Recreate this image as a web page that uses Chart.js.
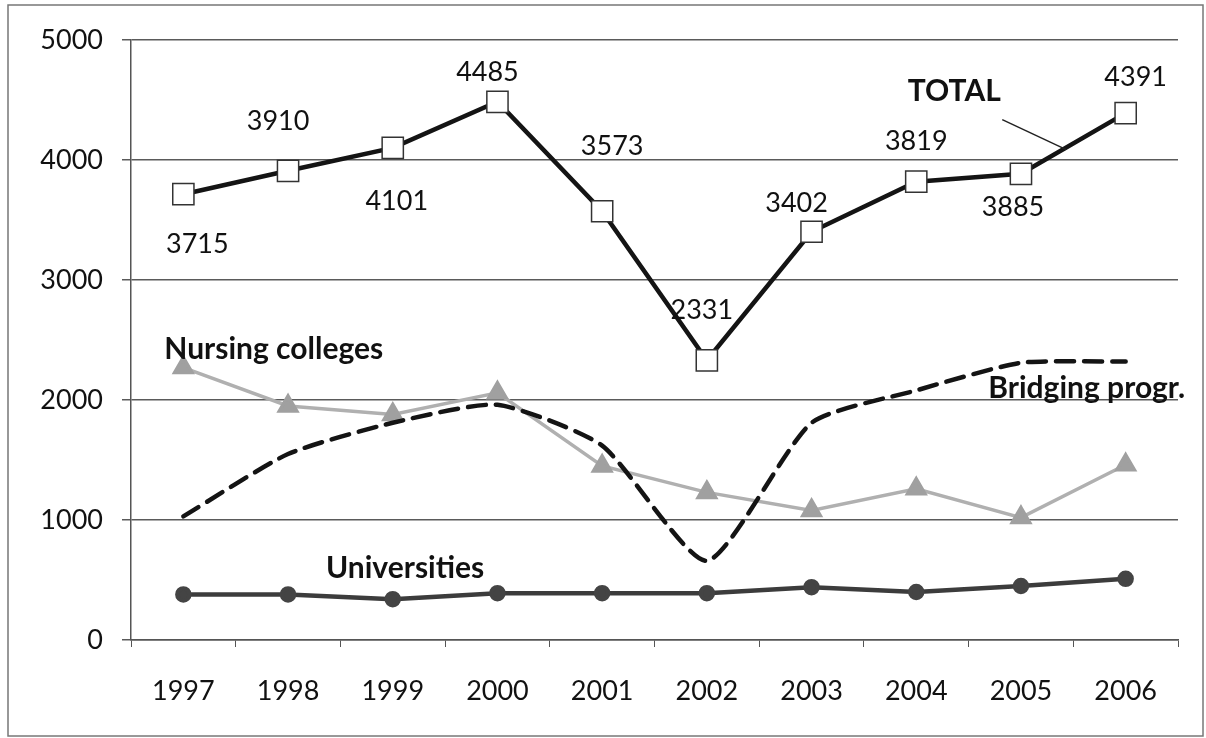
<!DOCTYPE html>
<html>
<head>
<meta charset="utf-8">
<script src="https://cdn.jsdelivr.net/npm/chart.js@4"></script>
<style>
  html, body { margin: 0; padding: 0; background: #fff; }
  #wrap { width: 1206px; height: 738px; }
</style>
</head>
<body>
<div id="wrap"><canvas id="myChart" width="1206" height="738"></canvas></div>
<script>
// data
const years = ['1997', '1998', '1999', '2000', '2001', '2002', '2003', '2004', '2005', '2006'];
const total = [3715, 3910, 4101, 4485, 3573, 2331, 3402, 3819, 3885, 4391];
const nursing = [2270, 1950, 1880, 2060, 1450, 1230, 1080, 1260, 1020, 1460];
const bridging = [1030, 1550, 1810, 1960, 1620, 660, 1810, 2080, 2310, 2320];
const universities = [380, 380, 340, 390, 390, 390, 440, 400, 450, 510];
const yTicks = [0, 1000, 2000, 3000, 4000, 5000];

// where each TOTAL value label sits, relative to its marker (px)
const labelShift = [[14, 50], [-10, -50], [4, 53], [-10, -30], [10, -65],
                    [-5, -50], [-15, -28], [0, -40], [-8, 33], [10, -36]];

const FONT = 'Lato, "Open Sans", sans-serif';

// value labels + series names + outer frame
const extras = {
    id: 'extras',
    afterDatasetsDraw(chart) {
        const ctx = chart.ctx;
        const xs = chart.scales.x, ys = chart.scales.y;
        ctx.save();
        // frame
        ctx.strokeStyle = '#777';
        ctx.lineWidth = 1.5;
        ctx.strokeRect(8, 5, 1195, 731);

        ctx.fillStyle = '#111';
        ctx.textAlign = 'center';
        ctx.textBaseline = 'middle';
        ctx.font = '27px ' + FONT;
        const meta = chart.getDatasetMeta(0);
        meta.data.forEach((pt, i) => {
            ctx.fillText(String(total[i]), pt.x + labelShift[i][0], pt.y + labelShift[i][1]);
        });

        ctx.font = 'bold 30px ' + FONT;
        ctx.textAlign = 'left';
        ctx.fillText('Nursing colleges', xs.getPixelForValue(0) - 19, ys.getPixelForValue(2420));
        ctx.fillText('Universities', xs.getPixelForValue(1) + 38, ys.getPixelForValue(600));
        ctx.textAlign = 'right';
        ctx.fillText('Bridging progr.', chart.chartArea.right + 7, ys.getPixelForValue(2100));
        ctx.textAlign = 'center';
        const tx = xs.getPixelForValue(7) + 38;
        const ty = ys.getPixelForValue(4570);
        ctx.fillText('TOTAL', tx, ty);
        // leader line from TOTAL to the line
        ctx.strokeStyle = '#222';
        ctx.lineWidth = 1.5;
        ctx.beginPath();
        ctx.moveTo(tx + 48, ty + 28);
        ctx.lineTo(tx + 112, ty + 58);
        ctx.stroke();
        ctx.restore();
    }
};

const config = {
    type: 'line',
    data: {
        labels: years,
        datasets: [
            {
                label: 'TOTAL',
                data: total,
                borderColor: '#141414',
                borderWidth: 4.5,
                pointStyle: 'rect',
                pointRadius: 15,
                pointBackgroundColor: '#fff',
                pointBorderColor: '#333',
                pointBorderWidth: 1.5,
                tension: 0
            },
            {
                label: 'Bridging progr.',
                data: bridging,
                borderColor: '#141414',
                borderWidth: 4.5,
                borderDash: [18, 10],
                borderCapStyle: 'round',
                borderJoinStyle: 'miter',
                pointRadius: 0,
                tension: 0.2
            },
            {
                label: 'Nursing colleges',
                data: nursing,
                borderColor: '#b0b0b0',
                borderWidth: 3.5,
                pointStyle: 'triangle',
                pointRadius: 10,
                pointBackgroundColor: '#a0a0a0',
                pointBorderColor: '#a0a0a0',
                tension: 0
            },
            {
                label: 'Universities',
                data: universities,
                borderColor: '#3c3c3c',
                borderWidth: 4.5,
                pointStyle: 'circle',
                pointRadius: 6,
                pointBackgroundColor: '#444',
                pointBorderColor: '#444',
                tension: 0
            }
        ]
    },
    options: {
        responsive: false,
        animation: false,
        layout: { padding: { top: 40, right: 28, bottom: 0, left: 0 } },
        plugins: { legend: { display: false }, tooltip: { enabled: false } },
        scales: {
            x: {
                offset: true,
                grid: { offset: true, drawOnChartArea: false, drawTicks: true, tickLength: 7, color: '#555' },
                border: { color: '#555', width: 1.5 },
                ticks: { color: '#111', font: { family: FONT, size: 27 }, padding: 28 },
                afterFit(s) { s.height = 98; }
            },
            y: {
                min: 0,
                max: 5000,
                afterBuildTicks(s) { s.ticks = yTicks.map(v => ({ value: v })); },
                grid: { color: '#5a5a5a', lineWidth: 1.5, tickLength: 9 },
                border: { color: '#555', width: 1.5 },
                ticks: {
                    color: '#111', font: { family: FONT, size: 27 }, padding: 19,
                    callback: (v) => String(v)
                },
                afterFit(s) { s.width = 131; }
            }
        }
    },
    plugins: [extras]
};

const myChart = new Chart(document.getElementById('myChart'), config);
</script>
</body>
</html>
